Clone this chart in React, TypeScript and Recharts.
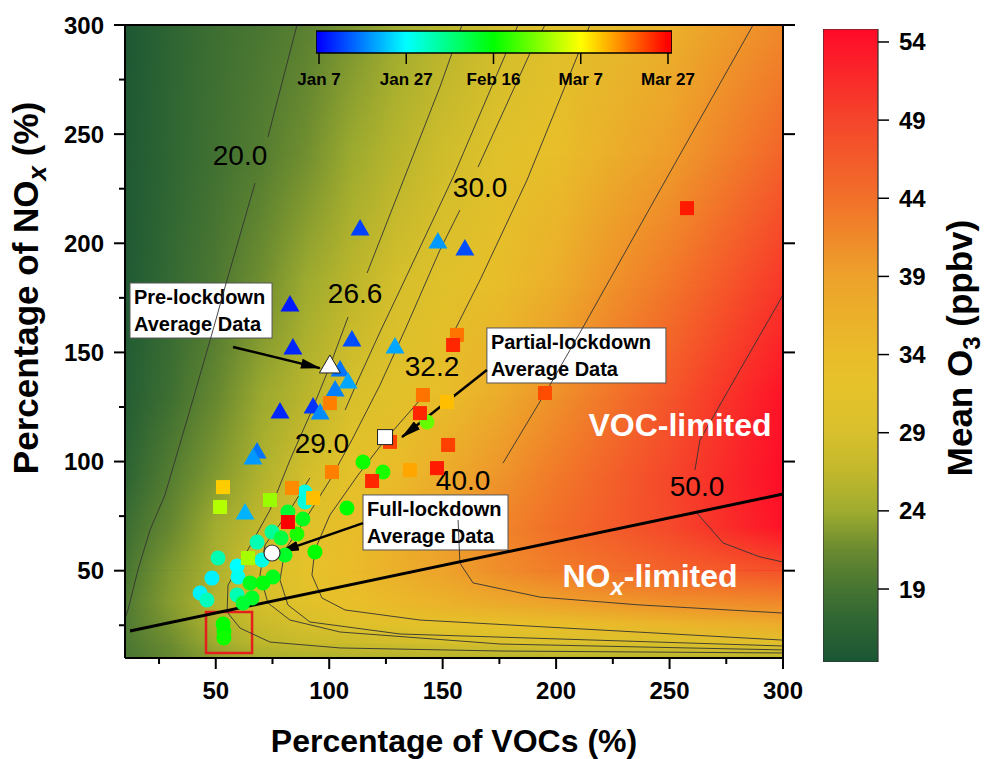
import React from "react";
import {
  ComposedChart,
  XAxis,
  YAxis,
  Line,
  Bar,
  Scatter,
  ReferenceArea,
  ReferenceLine,
} from "recharts";

const FONT = '"Liberation Sans", Arial, Helvetica, sans-serif';

// ---- axes / colour scales ----
const XY_TICKS = [25, 50, 75, 100, 125, 150, 175, 200, 225, 250, 275, 300];
const RIGHT_TICKS = [50, 100, 150, 200, 250, 300];
const O3_TICKS = [19, 24, 29, 34, 39, 44, 49, 54];
const TIME_TICK_DAYS = [0, 20, 40, 60, 80]; // days after Jan 7
const TIME_TICK_LABELS = ["Jan 7", "Jan 27", "Feb 16", "Mar 7", "Mar 27"];

// ---- modelled O3 surface (ppbv) ----
const FIELD_X = [10, 30, 50, 70, 90, 110, 130, 150, 175, 200, 250, 300];
const FIELD_Y = [300, 240, 180, 130, 95, 70, 50, 35, 25, 17, 10];
const FIELD_O3 = [
  [14.6, 16.8, 18.3, 19.3, 20.4, 22.2, 24.0, 25.8, 28.2, 30.5, 36.0, 41.5],
  [14.8, 17.0, 18.6, 20.0, 21.9, 23.9, 25.9, 28.0, 30.7, 33.2, 39.5, 45.5],
  [15.0, 17.4, 19.5, 21.8, 24.0, 26.2, 28.8, 30.8, 33.5, 36.9, 43.5, 50.5],
  [15.5, 18.3, 21.2, 23.8, 26.0, 29.0, 31.0, 33.5, 37.2, 40.7, 47.0, 54.0],
  [16.5, 19.9, 22.6, 25.2, 28.5, 31.5, 34.2, 36.9, 40.2, 43.0, 48.8, 54.5],
  [18.0, 21.2, 24.2, 26.7, 30.5, 33.5, 36.4, 39.1, 41.9, 44.2, 48.5, 54.0],
  [19.0, 22.5, 25.0, 29.0, 31.8, 34.2, 36.5, 38.8, 41.0, 42.8, 45.5, 47.5],
  [19.6, 22.8, 25.8, 28.6, 31.0, 33.0, 34.6, 36.0, 37.5, 38.8, 40.6, 41.5],
  [19.6, 22.2, 25.2, 27.3, 28.8, 30.3, 31.0, 31.6, 32.1, 33.0, 35.0, 37.0],
  [19.4, 21.6, 24.0, 26.3, 27.1, 27.6, 28.1, 28.6, 29.1, 29.4, 29.9, 31.0],
  [19.0, 21.0, 23.0, 24.5, 25.0, 25.3, 25.5, 25.7, 25.8, 25.9, 26.0, 26.3],
];

// ---- isopleths (split where the level label sits) ----
const ISO_20_A = [{ x: 85.8, y: 300 }, { x: 73.0, y: 248.7 }];
const ISO_20_B = [
  { x: 67.3, y: 227.6 }, { x: 54.1, y: 180 }, { x: 48.8, y: 160.3 }, { x: 38.6, y: 123.6 },
  { x: 27.6, y: 84.7 }, { x: 21.0, y: 68.6 }, { x: 15.7, y: 50.3 }, { x: 11.3, y: 32 }, { x: 10, y: 28 },
];
const ISO_26_A = [{ x: 158.5, y: 300 }, { x: 148.8, y: 271.6 }, { x: 116.7, y: 186.4 }];
const ISO_26_B = [
  { x: 108.3, y: 166.2 }, { x: 100.3, y: 143.8 }, { x: 92.4, y: 123.6 }, { x: 82.7, y: 100.7 },
  { x: 73.9, y: 77.8 }, { x: 62.9, y: 57.2 }, { x: 55.4, y: 43.4 }, { x: 55.0, y: 31.1 },
  { x: 60.7, y: 23.7 }, { x: 73.9, y: 17.3 }, { x: 104.8, y: 14.6 }, { x: 175.3, y: 13.2 }, { x: 300, y: 12.3 },
];
const ISO_29_A = [
  { x: 183.2, y: 300 }, { x: 154.6, y: 230.3 }, { x: 131.2, y: 178.6 }, { x: 122.8, y: 160.3 },
  { x: 112.7, y: 137.3 }, { x: 107.0, y: 123.6 },
];
const ISO_29_B = [
  { x: 91.5, y: 92.5 }, { x: 82.7, y: 77.8 }, { x: 71.7, y: 61.8 }, { x: 69.5, y: 48.0 },
  { x: 73.0, y: 35.2 }, { x: 82.7, y: 27.4 }, { x: 104.8, y: 21.9 }, { x: 175.3, y: 16.4 }, { x: 300, y: 13.7 },
];
const ISO_30_A = [{ x: 195.1, y: 300 }, { x: 188.5, y: 287.1 }, { x: 165.6, y: 234.9 }];
const ISO_30_B = [
  { x: 157.6, y: 215.2 }, { x: 148.8, y: 196.9 }, { x: 133.4, y: 160.3 }, { x: 122.4, y: 135.1 },
  { x: 110.0, y: 109.9 }, { x: 100.3, y: 91.5 }, { x: 89.3, y: 73.2 }, { x: 80.5, y: 59.5 },
  { x: 78.3, y: 45.7 }, { x: 81.8, y: 34.3 }, { x: 91.5, y: 26.5 }, { x: 131.2, y: 21.0 }, { x: 300, y: 15.5 },
];
const ISO_32_A = [{ x: 214.9, y: 300 }, { x: 187.2, y: 229.0 }, { x: 166.5, y: 183.2 }, { x: 155.4, y: 160.3 }];
const ISO_32_B = [
  { x: 140.0, y: 128.2 }, { x: 124.6, y: 109.9 }, { x: 112.7, y: 93.8 }, { x: 100.3, y: 75.5 },
  { x: 93.7, y: 59.5 }, { x: 92.4, y: 48.0 }, { x: 96.8, y: 37.5 }, { x: 107.0, y: 32.0 },
  { x: 140.0, y: 27.4 }, { x: 300, y: 18.2 },
];
const ISO_40_A = [
  { x: 286.8, y: 300 }, { x: 245.8, y: 224.4 }, { x: 211.9, y: 161.6 }, { x: 197.3, y: 135.1 }, { x: 176.6, y: 99.3 },
];
const ISO_40_B = [
  { x: 156.8, y: 73.2 }, { x: 157.6, y: 53.5 }, { x: 163.4, y: 44.4 }, { x: 192.9, y: 37.9 },
  { x: 237.0, y: 34.3 }, { x: 300, y: 30.6 },
];
const ISO_50_A = [{ x: 300, y: 176.3 }, { x: 281.0, y: 141.9 }, { x: 263.4, y: 109.9 }, { x: 261.2, y: 96.1 }];
const ISO_50_B = [{ x: 262.1, y: 76.4 }, { x: 273.6, y: 62.7 }, { x: 289.9, y: 56.3 }, { x: 300, y: 54.0 }];

const ISOPLETHS = [
  ISO_20_A, ISO_20_B, ISO_26_A, ISO_26_B, ISO_29_A, ISO_29_B, ISO_30_A, ISO_30_B,
  ISO_32_A, ISO_32_B, ISO_40_A, ISO_40_B, ISO_50_A, ISO_50_B,
];

const ISO_LABELS = [
  { x: 60.7, y: 240.4, text: "20.0" },
  { x: 111.4, y: 177.2, text: "26.6" },
  { x: 166.5, y: 225.8, text: "30.0" },
  { x: 145.3, y: 143.8, text: "32.2" },
  { x: 96.8, y: 108.5, text: "29.0" },
  { x: 159.0, y: 91.5, text: "40.0" },
  { x: 262.1, y: 88.8, text: "50.0" },
];

// ridge line separating the two regimes
const RIDGE = [{ x: 12.2, y: 22.4 }, { x: 300, y: 85.1 }];
const REGIME_LABELS = [
  { x: 254.6, y: 117.2, pre: "VOC-limited", sub: "", post: "" },
  { x: 241.4, y: 48.0, pre: "NO", sub: "x", post: "-limited" },
];

// ---- daily observations: VOC %, NOx %, day after Jan 7 ----
const PRE_LOCKDOWN = [
  { x: 113.6, y: 206.5, day: 5 }, { x: 147.9, y: 200.6, day: 12 }, { x: 159.8, y: 197.4, day: 6 },
  { x: 82.7, y: 171.7, day: 2 }, { x: 84.0, y: 152.0, day: 3 }, { x: 110.0, y: 155.7, day: 6 },
  { x: 129.0, y: 152.5, day: 13 }, { x: 104.8, y: 141.9, day: 9 }, { x: 108.3, y: 136.4, day: 13 },
  { x: 102.6, y: 132.8, day: 10 }, { x: 78.3, y: 122.7, day: 3 }, { x: 92.9, y: 125.0, day: 4 },
  { x: 96.0, y: 122.2, day: 11 }, { x: 68.2, y: 104.4, day: 9 }, { x: 66.4, y: 101.6, day: 12 },
  { x: 62.9, y: 76.4, day: 14 },
];
const FULL_LOCKDOWN = [
  { x: 114.9, y: 99.8, day: 41 }, { x: 123.7, y: 95.2, day: 42 }, { x: 143.1, y: 118.1, day: 48 },
  { x: 107.8, y: 78.7, day: 40 }, { x: 89.3, y: 86.0, day: 22 }, { x: 89.3, y: 81.5, day: 23 },
  { x: 81.8, y: 76.9, day: 36 }, { x: 88.4, y: 73.7, day: 38 }, { x: 85.8, y: 66.8, day: 42 },
  { x: 74.8, y: 67.7, day: 28 }, { x: 78.8, y: 65.0, day: 35 }, { x: 68.2, y: 63.1, day: 26 },
  { x: 93.7, y: 58.6, day: 40 }, { x: 70.4, y: 54.9, day: 22 }, { x: 80.5, y: 57.2, day: 37 },
  { x: 51.0, y: 55.8, day: 26 }, { x: 59.4, y: 52.1, day: 20 }, { x: 59.8, y: 47.1, day: 21 },
  { x: 48.3, y: 46.6, day: 19 }, { x: 75.2, y: 47.1, day: 38 }, { x: 65.1, y: 44.4, day: 38 },
  { x: 70.8, y: 44.4, day: 39 }, { x: 43.1, y: 39.8, day: 19 }, { x: 46.1, y: 36.6, day: 25 },
  { x: 59.4, y: 38.9, day: 26 }, { x: 66.0, y: 37.5, day: 37 }, { x: 62.0, y: 35.2, day: 36 },
  { x: 53.2, y: 25.6, day: 40 }, { x: 53.6, y: 22.4, day: 40 }, { x: 53.6, y: 19.2, day: 41 },
];
const PARTIAL_LOCKDOWN = [
  { x: 156.3, y: 158.0, day: 71 }, { x: 154.6, y: 153.4, day: 77 }, { x: 141.3, y: 130.5, day: 71 },
  { x: 140.0, y: 122.2, day: 77 }, { x: 151.9, y: 127.3, day: 65 }, { x: 152.4, y: 107.6, day: 75 },
  { x: 126.8, y: 109.0, day: 75 }, { x: 100.3, y: 126.8, day: 70 }, { x: 101.2, y: 95.2, day: 70 },
  { x: 118.9, y: 91.1, day: 77 }, { x: 135.6, y: 96.1, day: 67 }, { x: 147.5, y: 97.0, day: 78 },
  { x: 53.2, y: 88.3, day: 64 }, { x: 83.6, y: 87.9, day: 69 }, { x: 92.9, y: 83.3, day: 65 },
  { x: 73.9, y: 82.4, day: 52 }, { x: 51.9, y: 79.2, day: 54 }, { x: 81.8, y: 72.3, day: 80 },
  { x: 64.2, y: 55.8, day: 53 }, { x: 195.1, y: 131.4, day: 74 }, { x: 257.7, y: 216.1, day: 78 },
];
const PRE_AVG = [{ x: 100.3, y: 143.8 }];
const PARTIAL_AVG = [{ x: 124.6, y: 111.2 }];
const FULL_AVG = [{ x: 74.8, y: 58.1 }];

// ---- annotations (data coordinates) ----
const HIGHLIGHT = { x1: 45.7, x2: 66.0, y1: 12.3, y2: 31.1 };
const CALLOUTS = [
  { x1: 12.2, x2: 74.8, y1: 156.6, y2: 181.8, lines: ["Pre-lockdown", "Average Data"] },
  { x1: 169.5, x2: 248.4, y1: 136.0, y2: 161.2, lines: ["Partial-lockdown", "Average Data"] },
  { x1: 114.9, x2: 178.8, y1: 59.5, y2: 84.7, lines: ["Full-lockdown", "Average Data"] },
];
const ARROWS = [
  [{ x: 57.6, y: 152.5 }, { x: 95.9, y: 142.8 }],
  [{ x: 169.5, y: 141.9 }, { x: 132.1, y: 111.2 }],
  [{ x: 114.9, y: 71.8 }, { x: 78.3, y: 58.6 }],
];

// ---- colour scales ----
const O3_MIN = 14.33;
const O3_MAX = 54.83;
const TIME_MIN = -0.69;
const TIME_MAX = 80.92;
const O3_BAR = [{ name: "O3", span: [O3_MIN, O3_MAX] }];
const TIME_BAR = [{ name: "date", span: [TIME_MIN, TIME_MAX] }];
const O3_STOPS: [number, string][] = [
  [14.3, "#1b5634"], [17, "#2f6633"], [19, "#467432"], [21.5, "#6a8a30"], [24, "#9fac2f"],
  [26.6, "#c2b82c"], [29, "#d8c02c"], [32, "#e6c22a"], [34.5, "#eaba2a"], [39, "#eda22b"],
  [44, "#f27029"], [49, "#f5452b"], [54.8, "#ff0a28"],
];

function hex(h: string) {
  return [1, 3, 5].map((i) => parseInt(h.slice(i, i + 2), 16));
}

function o3Color(v: number) {
  if (v <= O3_STOPS[0][0]) return O3_STOPS[0][1];
  for (let i = 1; i < O3_STOPS.length; i++) {
    const [v1, c1] = O3_STOPS[i];
    if (v <= v1) {
      const [v0, c0] = O3_STOPS[i - 1];
      const t = (v - v0) / (v1 - v0);
      const a = hex(c0);
      const b = hex(c1);
      return `rgb(${a.map((q, k) => Math.round(q + (b[k] - q) * t)).join(",")})`;
    }
  }
  return O3_STOPS[O3_STOPS.length - 1][1];
}

function jet(day: number) {
  const t = Math.max(0, Math.min(1, day / 80));
  let r = 0, g = 0, b = 0;
  if (t < 0.25) { g = t / 0.25; b = 1; }
  else if (t < 0.5) { g = 1; b = 1 - (t - 0.25) / 0.25; }
  else if (t < 0.75) { r = (t - 0.5) / 0.25; g = 1; }
  else { r = 1; g = 1 - (t - 0.75) / 0.25; }
  return `rgb(${Math.round(r * 255)},${Math.round(g * 255)},${Math.round(b * 255)})`;
}

// ---- shapes ----
const stripShape = (i: number) => (p: any) => (
  <g>
    <rect x={p.x} y={p.y} width={p.width} height={p.height} fill={`url(#o3row${i})`} shapeRendering="crispEdges" />
    <rect x={p.x} y={p.y} width={p.width} height={p.height} fill={`url(#o3row${i + 1})`} mask="url(#rampMask)" shapeRendering="crispEdges" />
  </g>
);

const triangle = (p: any) => (
  <polygon points={`${p.cx},${p.cy - 10} ${p.cx + 9.5},${p.cy + 6.5} ${p.cx - 9.5},${p.cy + 6.5}`} fill={jet(p.payload.day)} />
);
const square = (p: any) => (
  <rect x={p.cx - 7} y={p.cy - 7} width={14} height={14} fill={jet(p.payload.day)} />
);
const circle = (p: any) => <circle cx={p.cx} cy={p.cy} r={7.5} fill={jet(p.payload.day)} />;

const avgTriangle = (p: any) => (
  <polygon points={`${p.cx},${p.cy - 11} ${p.cx + 10.5},${p.cy + 7} ${p.cx - 10.5},${p.cy + 7}`} fill="#fff" stroke="#222" strokeWidth={1} />
);
const avgSquare = (p: any) => (
  <rect x={p.cx - 7.5} y={p.cy - 7.5} width={15} height={15} fill="#fff" stroke="#222" strokeWidth={1} />
);
const avgCircle = (p: any) => <circle cx={p.cx} cy={p.cy} r={8} fill="#fff" stroke="#333" strokeWidth={1.2} />;

const isoLabel = (p: any) => (
  <text x={p.cx} y={p.cy} dy="0.36em" textAnchor="middle" fontFamily={FONT} fontSize={28} fill="#000">
    {p.payload.text}
  </text>
);

const regimeLabel = (p: any) => (
  <text x={p.cx} y={p.cy} dy="0.36em" textAnchor="middle" fontFamily={FONT} fontSize={32} fontWeight="bold" fill="#fff">
    {p.payload.pre}
    {p.payload.sub && (
      <tspan fontStyle="italic" fontSize={24} dy={8}>{p.payload.sub}</tspan>
    )}
    {p.payload.sub && <tspan dy={-8}>{p.payload.post}</tspan>}
  </text>
);

const calloutShape = (lines: string[]) => (p: any) => (
  <g>
    <rect x={p.x} y={p.y} width={p.width} height={p.height} fill="#fff" stroke="#555" strokeWidth={1} />
    {lines.map((t, i) => (
      <text key={t} x={p.x + 4} y={p.y + 21 + i * 27} fontFamily={FONT} fontSize={20} fontWeight="bold" fill="#000">
        {t}
      </text>
    ))}
  </g>
);

const arrowShape = (p: any) => (
  <line x1={p.x1} y1={p.y1} x2={p.x2} y2={p.y2} stroke="#000" strokeWidth={2.5} markerEnd="url(#arrowHead)" />
);

function XTick({ x, y, payload }: any) {
  const v = payload.value;
  const major = v % 50 === 0;
  return (
    <g>
      <line x1={x} x2={x} y1={y} y2={y + (major ? 11 : 6)} stroke="#000" strokeWidth={2} />
      {major && (
        <text x={x} y={y + 41} textAnchor="middle" fontFamily={FONT} fontSize={24} fontWeight="bold" fill="#000">
          {v}
        </text>
      )}
    </g>
  );
}

function YTick({ x, y, payload }: any) {
  const v = payload.value;
  const major = v % 50 === 0;
  return (
    <g>
      <line x1={x} x2={x - (major ? 11 : 6)} y1={y} y2={y} stroke="#000" strokeWidth={2} />
      {major && (
        <text x={x - 21} y={y} dy="0.36em" textAnchor="end" fontFamily={FONT} fontSize={24} fontWeight="bold" fill="#000">
          {v}
        </text>
      )}
    </g>
  );
}

function RTick({ x, y }: any) {
  return <line x1={x} x2={x + 12} y1={y} y2={y} stroke="#000" strokeWidth={2} />;
}

const xTitle = (p: any) => {
  const vb = p.viewBox;
  return (
    <text x={vb.x + vb.width / 2} y={vb.y + 94} textAnchor="middle" fontFamily={FONT} fontSize={32} fontWeight="bold" fill="#000">
      Percentage of VOCs (%)
    </text>
  );
};

const yTitle = () => {
  const cx = 38;
  const cy = 288;
  return (
    <text x={cx} y={cy} transform={`rotate(-90 ${cx} ${cy})`} textAnchor="middle" fontFamily={FONT} fontSize={35} fontWeight="bold" fill="#000">
      Percentage of NO
      <tspan fontStyle="italic" fontSize={26} dy={8}>x</tspan>
      <tspan dy={-8}> (%)</tspan>
    </text>
  );
};

const o3Title = (p: any) => {
  const vb = p.viewBox;
  const cx = vb.x + 94;
  const cy = 348;
  return (
    <text x={cx} y={cy} transform={`rotate(-90 ${cx} ${cy})`} textAnchor="middle" fontFamily={FONT} fontSize={35} fontWeight="bold" fill="#000">
      Mean O
      <tspan fontSize={24} dy={8}>3</tspan>
      <tspan dy={-8}> (ppbv)</tspan>
    </text>
  );
};

function Defs() {
  return (
    <svg width={0} height={0} style={{ position: "absolute" }}>
      <defs>
        {FIELD_O3.map((row, i) => (
          <linearGradient key={i} id={`o3row${i}`} x1="0" y1="0" x2="1" y2="0">
            {row.map((v, j) => (
              <stop key={j} offset={(FIELD_X[j] - 10) / 290} stopColor={o3Color(v)} />
            ))}
          </linearGradient>
        ))}
        <linearGradient id="rampGrad" x1="0" y1="0" x2="0" y2="1">
          <stop offset="0" stopColor="#fff" stopOpacity={0} />
          <stop offset="1" stopColor="#fff" stopOpacity={1} />
        </linearGradient>
        <mask id="rampMask" maskContentUnits="objectBoundingBox" style={{ maskType: "alpha" } as any}>
          <rect x="0" y="0" width="1" height="1" fill="url(#rampGrad)" />
        </mask>
        <linearGradient id="jetGrad" x1="0" y1="0" x2="1" y2="0">
          {TIME_TICK_DAYS.map((d) => (
            <stop key={d} offset={(d - TIME_MIN) / (TIME_MAX - TIME_MIN)} stopColor={jet(d)} />
          ))}
        </linearGradient>
        <linearGradient id="o3BarGrad" x1="0" y1="1" x2="0" y2="0">
          {O3_STOPS.map(([v, c]) => (
            <stop key={v} offset={Math.max(0, Math.min(1, (v - O3_MIN) / (O3_MAX - O3_MIN)))} stopColor={c} />
          ))}
        </linearGradient>
        <marker id="arrowHead" viewBox="0 0 20 10" refX="19" refY="5" markerWidth="20" markerHeight="10" markerUnits="userSpaceOnUse" orient="auto">
          <path d="M0,0 L20,5 L0,10 z" fill="#000" />
        </marker>
      </defs>
    </svg>
  );
}

export default function App() {
  return (
    <div style={{ position: "absolute", left: 0, top: 0, width: 984, height: 759, background: "#fff", fontFamily: FONT }}>
      <Defs />
      <ComposedChart width={984} height={759} margin={{ top: 25, right: 181, bottom: 1, left: 0 }}>
        {FIELD_Y.slice(0, -1).map((yTop, i) => (
          <ReferenceArea key={`s${i}`} x1={10} x2={300} y1={FIELD_Y[i + 1]} y2={yTop} shape={stripShape(i)} ifOverflow="visible" />
        ))}
        {ISOPLETHS.map((seg, i) => (
          <Line key={`iso${i}`} data={seg} dataKey="y" type="linear" stroke="#333" strokeWidth={0.9} dot={false} activeDot={false} isAnimationActive={false} />
        ))}
        <ReferenceLine segment={RIDGE} stroke="#000" strokeWidth={3} />
        <Scatter data={ISO_LABELS} shape={isoLabel} isAnimationActive={false} />
        <Scatter data={REGIME_LABELS} shape={regimeLabel} isAnimationActive={false} />
        <Scatter data={PRE_LOCKDOWN} shape={triangle} isAnimationActive={false} />
        <Scatter data={FULL_LOCKDOWN} shape={circle} isAnimationActive={false} />
        <Scatter data={PARTIAL_LOCKDOWN} shape={square} isAnimationActive={false} />
        <ReferenceArea {...HIGHLIGHT} fill="none" fillOpacity={0} stroke="#e3201c" strokeWidth={2.5} />
        {CALLOUTS.map((c) => (
          <ReferenceArea key={c.lines[0]} x1={c.x1} x2={c.x2} y1={c.y1} y2={c.y2} shape={calloutShape(c.lines)} />
        ))}
        {ARROWS.map((seg, i) => (
          <ReferenceLine key={`ar${i}`} segment={seg} shape={arrowShape} />
        ))}
        <Scatter data={PRE_AVG} shape={avgTriangle} isAnimationActive={false} />
        <Scatter data={PARTIAL_AVG} shape={avgSquare} isAnimationActive={false} />
        <Scatter data={FULL_AVG} shape={avgCircle} isAnimationActive={false} />
        <ReferenceLine y={300} stroke="#000" strokeWidth={2} />
        <XAxis
          type="number"
          dataKey="x"
          domain={[10, 300]}
          allowDataOverflow
          ticks={XY_TICKS}
          interval={0}
          tick={<XTick />}
          tickLine={false}
          tickSize={0}
          tickMargin={0}
          axisLine={{ stroke: "#000", strokeWidth: 2 }}
          height={100}
          label={xTitle}
        />
        <YAxis
          type="number"
          dataKey="y"
          domain={[10, 300]}
          allowDataOverflow
          ticks={XY_TICKS}
          interval={0}
          tick={<YTick />}
          tickLine={false}
          tickSize={0}
          tickMargin={0}
          axisLine={{ stroke: "#000", strokeWidth: 2 }}
          width={125}
          label={yTitle}
        />
        <YAxis
          yAxisId="right"
          orientation="right"
          type="number"
          domain={[10, 300]}
          allowDataOverflow
          ticks={RIGHT_TICKS}
          interval={0}
          tick={<RTick />}
          tickLine={false}
          tickSize={0}
          tickMargin={0}
          axisLine={{ stroke: "#000", strokeWidth: 2 }}
          width={20}
        />
      </ComposedChart>

      {/* date colour bar */}
      <div style={{ position: "absolute", left: 286, top: 29, zIndex: 5 }}>
        <ComposedChart layout="vertical" data={TIME_BAR} width={416} height={66} barCategoryGap={0} margin={{ top: 2, right: 30, bottom: 0, left: 30 }}>
          <XAxis
            type="number"
            domain={[TIME_MIN, TIME_MAX]}
            allowDataOverflow
            ticks={TIME_TICK_DAYS}
            interval={0}
            tickFormatter={(d: number) => TIME_TICK_LABELS[TIME_TICK_DAYS.indexOf(d)]}
            tick={{ fontSize: 17, fontWeight: "bold", fill: "#000", fontFamily: FONT }}
            tickLine={{ stroke: "#000", strokeWidth: 1.5 }}
            tickSize={11}
            tickMargin={9}
            axisLine={false}
            height={42}
          />
          <YAxis hide type="category" dataKey="name" width={0} />
          <Bar dataKey="span" fill="url(#jetGrad)" stroke="#000" strokeWidth={1.5} isAnimationActive={false} />
        </ComposedChart>
      </div>

      {/* O3 colour bar */}
      <div style={{ position: "absolute", left: 823, top: 0, zIndex: 5 }}>
        <ComposedChart data={O3_BAR} width={161} height={759} barCategoryGap={0} margin={{ top: 29, right: 0, bottom: 97, left: 0 }}>
          <XAxis hide type="category" dataKey="name" height={0} />
          <YAxis
            orientation="right"
            type="number"
            domain={[O3_MIN, O3_MAX]}
            allowDataOverflow
            ticks={O3_TICKS}
            interval={0}
            tick={{ fontSize: 24, fontWeight: "bold", fill: "#000", fontFamily: FONT }}
            tickLine={{ stroke: "#000", strokeWidth: 1.5 }}
            tickSize={11}
            tickMargin={10}
            axisLine={false}
            width={106}
            label={o3Title}
          />
          <Bar dataKey="span" fill="url(#o3BarGrad)" stroke="#333" strokeWidth={1.2} isAnimationActive={false} />
        </ComposedChart>
      </div>
    </div>
  );
}
